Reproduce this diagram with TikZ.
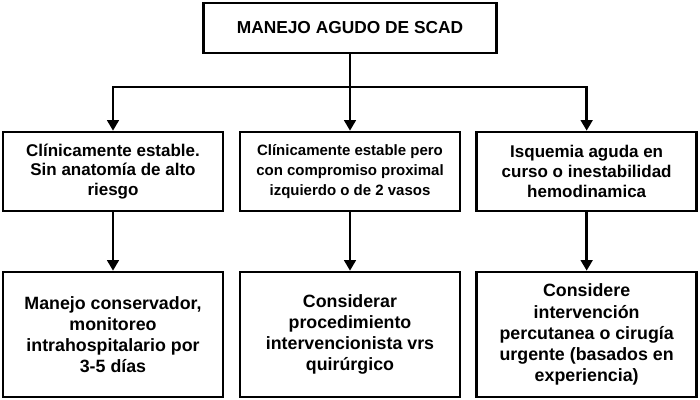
\documentclass[tikz,border=0pt]{standalone}
\usepackage{fontspec}
\setmainfont{Liberation Sans}
\usetikzlibrary{arrows.meta, positioning}

\begin{document}
\begin{tikzpicture}[
    box/.style={rectangle, draw=black, fill=white, line width=2.3pt,
                align=center, inner sep=0pt, font=\bfseries},
    titlebox/.style={box, minimum width=8.8cm, minimum height=1.5cm,
                     font=\bfseries\fontsize{14.8}{17}\selectfont},
    midbox/.style={box, minimum width=6.6cm, minimum height=2.37cm,
                   font=\bfseries\fontsize{#1}{17}\selectfont},
    midbox/.default=14.5,
    lowbox/.style={box, minimum width=6.6cm, minimum height=3.75cm,
                   font=\bfseries\fontsize{15.2}{18}\selectfont},
    arr/.style={-{Triangle[length=9pt, width=10pt]}, line width=2pt, draw=black},
    line/.style={line width=2pt, draw=black},
]

% --- marco ---
\useasboundingbox (0,0) rectangle (21,-12);

% --- titulo ---
\node (manejo) [titlebox] at (10.5, -0.84) {MANEJO AGUDO DE SCAD};

% --- fila 1: situacion clinica ---
\node (estable)   [midbox]        at (3.39, -5.145)
    {Clínicamente estable.\\Sin anatomía de alto\\riesgo};
\node (proximal)  [midbox=12.8]   at (10.5, -5.145)
    {Clínicamente estable pero\\con compromiso proximal\\izquierdo o de 2 vasos};
\node (isquemia)  [midbox]        at (17.6, -5.145)
    {Isquemia aguda en\\curso o inestabilidad\\hemodinamica};

% --- fila 2: manejo ---
\node (conserva)  [lowbox] at (3.39, -10.035)
    {Manejo conservador,\\monitoreo\\intrahospitalario por\\3-5 días};
\node (procede)   [lowbox] at (10.5, -10.035)
    {Considerar\\procedimiento\\intervencionista vrs\\quirúrgico};
\node (urgente)   [lowbox] at (17.6, -10.035)
    {Considere\\intervención\\percutanea o cirugía\\urgente (basados en\\experiencia)};

% --- ramificacion ---
\coordinate (split) at (10.5, -2.61);
\draw [line] (manejo.south) -- (split);
\draw [arr] (split) -| (estable.north);
\draw [arr] (split) -| (isquemia.north);
\draw [arr] (split) -- (proximal.north);

% --- flechas entre filas ---
\draw [arr] (estable.south)  -- (conserva.north);
\draw [arr] (proximal.south) -- (procede.north);
\draw [arr] (isquemia.south) -- (urgente.north);

\end{tikzpicture}
\end{document}
